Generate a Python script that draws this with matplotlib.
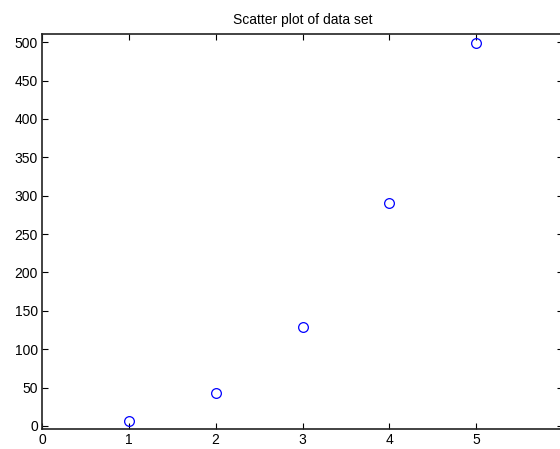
import matplotlib
matplotlib.use("Agg")
from matplotlib import pyplot as plt

# data
x_vals = [1, 2, 3, 4, 5]
y_vals = [6, 43, 129, 290, 499]
x_ticks = [0, 1, 2, 3, 4, 5, 6]
y_ticks = [0, 50, 100, 150, 200, 250, 300, 350, 400, 450, 500]

plt.rcParams['font.family'] = ['Liberation Sans', 'DejaVu Sans']

fig = plt.figure(figsize=(5.6, 4.49), dpi=100)
# axes run slightly past the right edge, like the cropped original
ax = fig.add_axes([0.075, 0.0445, 0.9304, 0.8805])

ax.plot(x_vals, y_vals, linestyle='none', marker='o', markersize=7,
        markerfacecolor='none', markeredgecolor='#0000ff', markeredgewidth=0.9)

ax.set_xlim(0, 6)
ax.set_ylim(-4, 511)
ax.set_xticks(x_ticks)
ax.set_yticks(y_ticks)
ax.tick_params(direction='in', length=4, width=0.8, top=True, right=True,
               labelsize=10, pad=3, colors='black')
for s in ax.spines.values():
    s.set_linewidth(1.2)
    s.set_color('#222222')

ax.set_title('Scatter plot of data set', fontsize=10, pad=7)

fig.savefig('out.png', dpi=100)
